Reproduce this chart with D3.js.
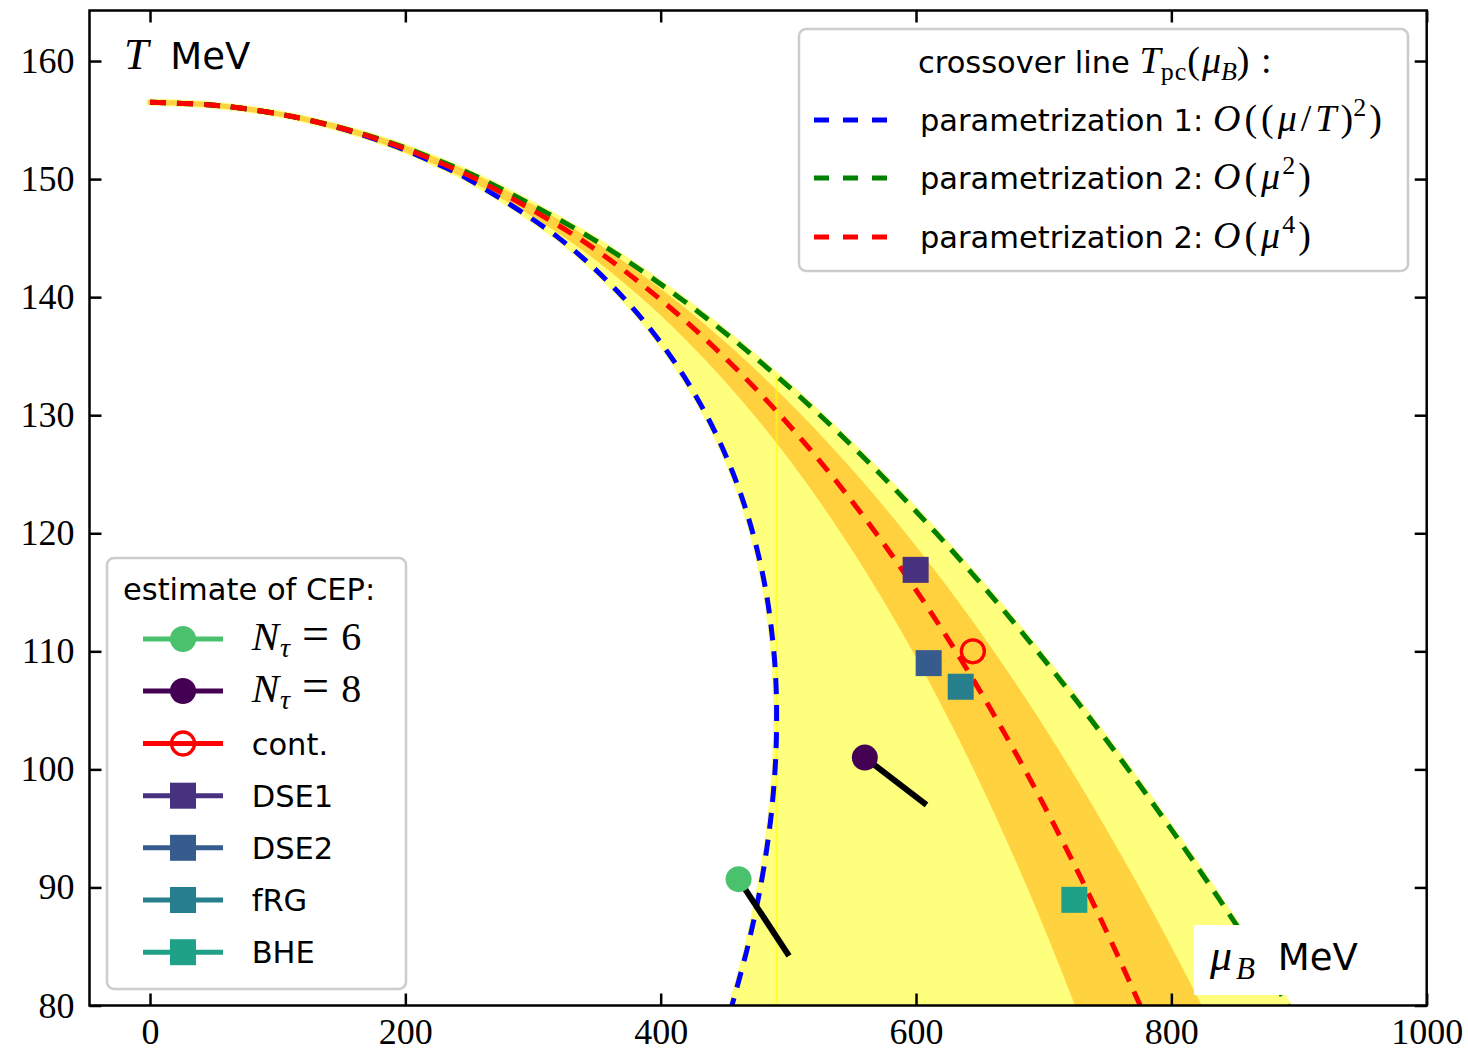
<!DOCTYPE html>
<html>
<head>
<meta charset="utf-8">
<script src="https://cdn.jsdelivr.net/npm/d3@7"></script>
<style>
  body { margin: 0; background: #fff; }
  svg { display: block; }
  text { white-space: pre; }
</style>
</head>
<body>
<svg id="chart" width="1468" height="1052"></svg>
<script>
// ---- Crossover line T_pc(mu_B), sampled at fixed temperatures (MeV) ----
const T_levels = [156.5, 156.3, 156, 155.5, 155, 154, 153, 152.5, 151, 150, 145, 140, 135, 130, 125, 120, 115, 110, 105, 100, 95, 90, 85, 80];
// parametrization 2, O(mu^2)
const mu_par2_o2 = [0, 45.6, 72.1, 101.9, 124.9, 161.2, 190.7, 203.9, 239.1, 259.9, 345.7, 414.1, 472.7, 524.8, 572.1, 615.9, 656.7, 695.1, 731.5, 766.2, 799.4, 831.3, 862.0, 891.6];
// parametrization 2, O(mu^4)
const mu_par2_o4 = [0, 45.6, 72.0, 101.7, 124.3, 160.1, 188.9, 201.7, 235.6, 255.5, 335.7, 397.6, 449.1, 493.6, 533.1, 568.7, 601.2, 631.2, 659.0, 685.1, 709.6, 732.8, 754.7, 775.6];
// uncertainty band of the O(mu^4) line
const mu_band_lo = [0, 45.5, 71.9, 101.4, 123.9, 159.3, 187.6, 200.1, 233.1, 252.3, 329.0, 387.2, 434.9, 475.7, 511.6, 543.7, 572.8, 599.5, 624.2, 647.3, 668.8, 689.2, 708.4, 726.6];
const mu_band_hi = [0, 45.6, 72.0, 101.8, 124.7, 160.6, 189.8, 202.8, 237.3, 257.7, 340.5, 405.4, 460.0, 507.8, 550.6, 589.5, 625.3, 658.6, 689.7, 718.9, 746.5, 772.8, 797.7, 821.6];

// parametrization 1, O((mu/T)^2): bends back below ~105 MeV
const T_levels_p1 = [156.5, 156.3, 156, 155.5, 155, 154, 153, 152.5, 151, 150, 145, 140, 135, 130, 125, 120, 115, 110, 107, 104, 101, 98, 95, 90, 85, 80];
const mu_par1 = [0, 45.5, 71.9, 101.3, 123.7, 158.6, 186.4, 198.7, 230.7, 249.1, 320.3, 370.4, 407.7, 435.9, 457.0, 472.2, 482.6, 488.6, 490.4, 490.8, 490.1, 488.2, 485.3, 478.1, 468.2, 455.8];

// seam of the shaded region at the turning point of parametrization 1
const seamMu = 490.8;
const seamT = [80, 133.4];

// ---- CEP estimates ----
const cepLabels = ["Nt6", "Nt8", "cont.", "DSE1", "DSE2", "fRG", "BHE"];
const cepMu = [461.0, 559.9, 644.5, 599.7, 609.9, 635.0, 724.0];
const cepT = [90.7, 101.0, 110.0, 116.9, 109.0, 107.0, 88.95];
const cepColors = ["#4ac16d", "#440154", "#ff0000", "#46327e", "#365c8d", "#277f8e", "#1fa187"];
const cepShapes = ["circle", "circle", "ring", "square", "square", "square", "square"];
// drift of the lattice estimates
const driftMuEnd = [500.5, 608.2];
const driftTEnd = [84.2, 97.0];

// ---- axes ----
const xTicks = [0, 200, 400, 600, 800, 1000];
const yTicks = [80, 90, 100, 110, 120, 130, 140, 150, 160];

const SANS = "'DejaVu Sans', sans-serif";
const SERIF = "'Liberation Serif', 'DejaVu Serif', serif";

const svg = d3.select("#chart");
const P = { left: 89.5, right: 1426.7, top: 10.5, bottom: 1005.5 };
const x = d3.scaleLinear().domain([-47.4, 1000]).range([P.left, P.right]);
const y = d3.scaleLinear().domain([80, 164.28]).range([P.bottom, P.top]);

svg.append("defs").append("clipPath").attr("id", "plotclip")
  .append("rect").attr("x", P.left).attr("y", P.top)
  .attr("width", P.right - P.left).attr("height", P.bottom - P.top);

const plot = svg.append("g").attr("clip-path", "url(#plotclip)");

const line = d3.line().x(d => x(d[0])).y(d => y(d[1])).curve(d3.curveCatmullRom.alpha(0.5));
const zip = (mus, Ts) => mus.map((m, i) => [m, Ts[i]]);

const par1 = zip(mu_par1, T_levels_p1);
const par2o2 = zip(mu_par2_o2, T_levels);
const par2o4 = zip(mu_par2_o4, T_levels);
const bandLo = zip(mu_band_lo, T_levels);
const bandHi = zip(mu_band_hi, T_levels);

// shaded region between parametrization 1 and parametrization 2 O(mu^2)
const regionPath = line(par2o2) + "L" + line(par1.slice().reverse()).slice(1) + "Z";
plot.append("g").attr("opacity", 0.5)
  .append("path").attr("d", regionPath)
  .attr("fill", "#ffff00").attr("stroke", "#ffff00").attr("stroke-width", 7)
  .attr("stroke-linejoin", "round");

// band around the O(mu^4) line
const bandPath = line(bandHi) + "L" + line(bandLo.slice().reverse()).slice(1) + "Z";
plot.append("g").attr("opacity", 0.5)
  .append("path").attr("d", bandPath)
  .attr("fill", "#ffa500").attr("stroke", "#ffa500").attr("stroke-width", 5)
  .attr("stroke-linejoin", "round");

plot.append("line")
  .attr("x1", x(seamMu)).attr("x2", x(seamMu))
  .attr("y1", y(seamT[0])).attr("y2", y(seamT[1]))
  .attr("stroke", "#ffff00").attr("stroke-opacity", 0.6).attr("stroke-width", 2.2);

// crossover lines
const DASH = "16,11";
const LW = 5;
[[par1, "#0000ff"], [par2o2, "#008000"], [par2o4, "#ff0000"]].forEach(([pts, c]) => {
  plot.append("path").attr("d", line(pts)).attr("fill", "none")
    .attr("stroke", c).attr("stroke-width", LW).attr("stroke-dasharray", DASH);
});

// drift lines of lattice CEP estimates
driftMuEnd.forEach((m, i) => {
  plot.append("line")
    .attr("x1", x(cepMu[i])).attr("y1", y(cepT[i]))
    .attr("x2", x(m)).attr("y2", y(driftTEnd[i]))
    .attr("stroke", "#000").attr("stroke-width", 6);
});

function drawMarker(g, shape, color, cx, cy) {
  if (shape === "circle") {
    g.append("circle").attr("cx", cx).attr("cy", cy).attr("r", 13).attr("fill", color);
  } else if (shape === "ring") {
    g.append("circle").attr("cx", cx).attr("cy", cy).attr("r", 11.5)
      .attr("fill", "none").attr("stroke", color).attr("stroke-width", 3.3);
  } else {
    g.append("rect").attr("x", cx - 13).attr("y", cy - 13).attr("width", 26).attr("height", 26)
      .attr("fill", color);
  }
}
cepMu.forEach((m, i) => drawMarker(plot, cepShapes[i], cepColors[i], x(m), y(cepT[i])));

// ---- axes with inward ticks on all sides ----
function styleAxis(g) {
  g.select(".domain").remove();
  g.selectAll(".tick line").attr("stroke", "#000").attr("stroke-width", 2.5);
  g.selectAll("text").attr("font-family", SERIF).attr("font-size", 36).attr("fill", "#000");
  g.attr("font-family", null).attr("font-size", null);
}
svg.append("g").attr("transform", `translate(0,${P.bottom})`)
  .call(d3.axisBottom(x).tickValues(xTicks).tickSize(-12).tickPadding(13).tickFormat(d3.format("d")))
  .call(styleAxis);
svg.append("g").attr("transform", `translate(0,${P.top})`)
  .call(d3.axisTop(x).tickValues(xTicks).tickSize(-12).tickFormat(""))
  .call(styleAxis);
svg.append("g").attr("transform", `translate(${P.left},0)`)
  .call(d3.axisLeft(y).tickValues(yTicks).tickSize(-12).tickPadding(15).tickFormat(d3.format("d")))
  .call(styleAxis);
svg.append("g").attr("transform", `translate(${P.right},0)`)
  .call(d3.axisRight(y).tickValues(yTicks).tickSize(-12).tickFormat(""))
  .call(styleAxis);

svg.append("rect").attr("x", P.left).attr("y", P.top)
  .attr("width", P.right - P.left).attr("height", P.bottom - P.top)
  .attr("fill", "none").attr("stroke", "#000").attr("stroke-width", 2.5);

// ---- rich text helper (mixed sans text and serif math) ----
function rich(parent, x0, y0, parts) {
  const t = parent.append("text").attr("x", x0).attr("y", y0).attr("fill", "#000");
  let cur = 0;
  parts.forEach(p => {
    const s = p.shift || 0;
    const ts = t.append("tspan").attr("dy", s - cur)
      .attr("font-family", p.serif ? SERIF : SANS)
      .attr("font-size", p.size || (p.serif ? 38 : 30.5))
      .attr("font-style", p.italic ? "italic" : "normal")
      .text(p.t);
    if (p.dx) ts.attr("dx", p.dx);
    if (p.ls) ts.attr("letter-spacing", p.ls);
    cur = s;
  });
  return t;
}

// axis titles
rich(svg, 124, 69, [{ t: "T", serif: true, italic: true, size: 44 }, { t: " MeV", size: 37, dx: 10 }]);
svg.append("rect").attr("x", 1194).attr("y", 925).attr("width", 182).attr("height", 70).attr("fill", "#fff");
rich(svg, 1210, 970, [
  { t: "μ", serif: true, italic: true, size: 44 },
  { t: "B", serif: true, italic: true, size: 31, shift: 9, dx: 4 },
  { t: " MeV", size: 37, shift: 0, dx: 11 }
]);

// ---- legend: crossover lines ----
const lg1 = svg.append("g");
lg1.append("rect").attr("x", 799).attr("y", 29).attr("width", 609).attr("height", 242).attr("rx", 7)
  .attr("fill", "#fff").attr("fill-opacity", 0.8).attr("stroke", "#cccccc").attr("stroke-width", 2.5);
rich(lg1, 918, 73, [
  { t: "crossover line " },
  { t: "T", serif: true, italic: true },
  { t: "pc", serif: true, size: 26, shift: 7, ls: 1 },
  { t: "(", serif: true, shift: 0, ls: 2 },
  { t: "μ", serif: true, italic: true },
  { t: "B", serif: true, italic: true, size: 26, shift: 7 },
  { t: ")", serif: true, shift: 0, ls: 2 },
  { t: " :", serif: true }
]);
const lg1Rows = [
  { c: "#0000ff", y: 120, parts: [{ t: "parametrization 1: " }, { t: "O", serif: true, italic: true, ls: 4 }, { t: "((", serif: true, ls: 4 }, { t: "μ", serif: true, italic: true, ls: 4 }, { t: "/", serif: true, ls: 4 }, { t: "T", serif: true, italic: true, ls: 4 }, { t: ")", serif: true }, { t: "2", serif: true, size: 26, shift: -15, ls: 3 }, { t: ")", serif: true, shift: 0 }] },
  { c: "#008000", y: 178, parts: [{ t: "parametrization 2: " }, { t: "O", serif: true, italic: true, ls: 4 }, { t: "(", serif: true, ls: 4 }, { t: "μ", serif: true, italic: true, ls: 2 }, { t: "2", serif: true, size: 26, shift: -15, ls: 3 }, { t: ")", serif: true, shift: 0 }] },
  { c: "#ff0000", y: 237, parts: [{ t: "parametrization 2: " }, { t: "O", serif: true, italic: true, ls: 4 }, { t: "(", serif: true, ls: 4 }, { t: "μ", serif: true, italic: true, ls: 2 }, { t: "4", serif: true, size: 26, shift: -15, ls: 3 }, { t: ")", serif: true, shift: 0 }] }
];
lg1Rows.forEach(r => {
  lg1.append("line").attr("x1", 814).attr("x2", 888).attr("y1", r.y).attr("y2", r.y)
    .attr("stroke", r.c).attr("stroke-width", LW).attr("stroke-dasharray", "15,14");
  rich(lg1, 920, r.y + 11, r.parts);
});

// ---- legend: CEP estimates ----
const lg2 = svg.append("g");
lg2.append("rect").attr("x", 107).attr("y", 558).attr("width", 299).attr("height", 431).attr("rx", 7)
  .attr("fill", "#fff").attr("fill-opacity", 0.8).attr("stroke", "#cccccc").attr("stroke-width", 2.5);
rich(lg2, 123, 600, [{ t: "estimate of CEP:" }]);
const lg2Text = [
  [{ t: "N", serif: true, italic: true, size: 41, ls: 1 }, { t: "τ", serif: true, italic: true, size: 28, shift: 7 }, { t: "=", serif: true, size: 48, shift: 0, dx: 12 }, { t: "6", serif: true, size: 40, dx: 12 }],
  [{ t: "N", serif: true, italic: true, size: 41, ls: 1 }, { t: "τ", serif: true, italic: true, size: 28, shift: 7 }, { t: "=", serif: true, size: 48, shift: 0, dx: 12 }, { t: "8", serif: true, size: 40, dx: 12 }],
  [{ t: "cont." }], [{ t: "DSE1" }], [{ t: "DSE2" }], [{ t: "fRG" }], [{ t: "BHE" }]
];
const lg2RowY = [639, 691, 743.5, 795.7, 847.8, 900, 952.2];
lg2RowY.forEach((ry, i) => {
  lg2.append("line").attr("x1", 143).attr("x2", 223).attr("y1", ry).attr("y2", ry)
    .attr("stroke", cepColors[i]).attr("stroke-width", 5);
  drawMarker(lg2, cepShapes[i], cepColors[i], 183, ry);
  rich(lg2, 251.7, ry + 11, lg2Text[i]);
});
</script>
</body>
</html>
